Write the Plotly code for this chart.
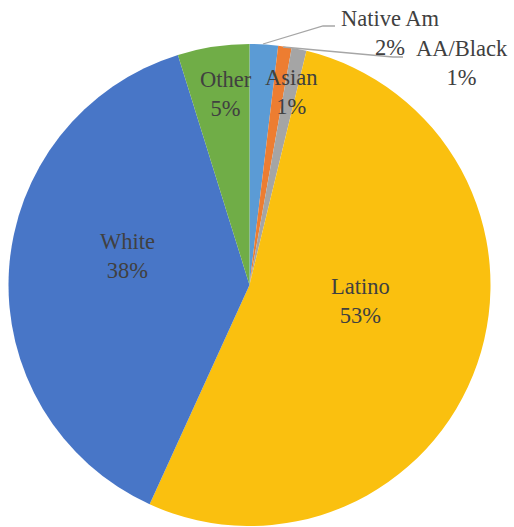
import plotly.graph_objects as go

categories = ["Native Am", "Asian", "AA/Black", "Latino", "White", "Other"]
values = [1.9, 0.9, 1.0, 53.0, 38.4, 4.8]
colors = ["#5B9BD5", "#ED7D31", "#A5A5A5", "#FAC00F", "#4876C7", "#70AD47"]

W, H = 514, 527

def px(x):
    return x / W

def py(y):
    return 1 - y / H

fig = go.Figure()
fig.add_trace(go.Pie(
    labels=categories,
    values=values,
    sort=False,
    direction="clockwise",
    rotation=0,
    marker=dict(colors=colors, line=dict(width=0)),
    textinfo="none",
    hoverinfo="label+percent",
    showlegend=False,
    domain=dict(x=[px(8.5), px(490.5)], y=[py(526), py(44)]),
))

total = sum(values)
pct = {c: f"{round(v / total * 100)}%" for c, v in zip(categories, values)}

label_pos = {
    "Native Am": (390, 33),
    "AA/Black": (462, 63),
    "Asian": (291, 92),
    "Other": (226, 94),
    "White": (127, 256),
    "Latino": (360, 301),
}
FONT = "Liberation Serif, Times New Roman, serif"
for c in categories:
    x, y = label_pos[c]
    fig.add_annotation(
        x=px(x), y=py(y), xref="paper", yref="paper",
        text=f"{c}<br>{pct[c]}", showarrow=False,
        font=dict(family=FONT, size=22.5, color="#404040"),
        xanchor="center", yanchor="middle", align="center",
    )

leaders = [
    [(263, 44), (323, 26), (335, 26)],
    [(283, 47), (393, 57), (403, 57)],
]
for pts in leaders:
    path = "M " + " L ".join(f"{px(x)},{py(y)}" for x, y in pts)
    fig.add_shape(type="path", path=path, xref="paper", yref="paper",
                  line=dict(color="#A6A6A6", width=1.3))

fig.update_layout(
    width=W, height=H,
    margin=dict(l=0, r=0, t=0, b=0),
    paper_bgcolor="white",
    plot_bgcolor="white",
    font=dict(family=FONT),
)

fig.write_html("out.html", config={"displayModeBar": False},
               post_script="document.body.style.margin='0';")
